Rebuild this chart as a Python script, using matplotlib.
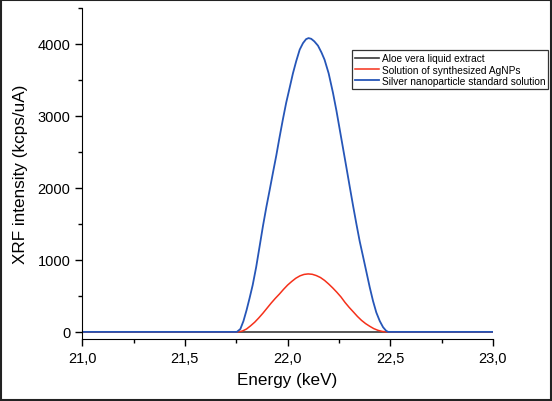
import matplotlib.pyplot as plt
from matplotlib.patches import Rectangle
from matplotlib.ticker import MultipleLocator, FuncFormatter

plt.rcParams["font.family"] = ["Liberation Sans", "DejaVu Sans"]

# values (energy in keV, intensity in kcps/uA)
aloe_x = [21.0, 23.0]
aloe_y = [0, 0]

agnp_x = [21.0, 21.760, 21.780, 21.800, 21.820, 21.840, 21.860, 21.880,
          21.900, 21.920, 21.940, 21.960, 21.980, 22.000, 22.020, 22.040,
          22.060, 22.080, 22.100, 22.120, 22.140, 22.160, 22.180, 22.200,
          22.220, 22.240, 22.260, 22.280, 22.300, 22.320, 22.340, 22.360,
          22.380, 22.400, 22.420, 22.440, 22.460, 22.480, 23.0]
agnp_y = [0, 0, 12, 40, 85, 135, 195, 260,
          330, 400, 465, 525, 590, 650, 700, 745,
          778, 798, 805, 800, 782, 755, 715, 665,
          610, 550, 485, 408, 340, 278, 215, 160,
          115, 78, 45, 22, 7, 0, 0]

std_x = [21.0, 21.753, 21.770, 21.785, 21.800, 21.815, 21.830, 21.847,
         21.865, 21.880, 21.897, 21.912, 21.930, 21.945, 21.960, 21.977,
         21.993, 22.010, 22.026, 22.042, 22.059, 22.075, 22.090, 22.102,
         22.115, 22.130, 22.148, 22.165, 22.180, 22.200, 22.221, 22.238,
         22.254, 22.270, 22.286, 22.303, 22.319, 22.335, 22.351, 22.368,
         22.384, 22.400, 22.416, 22.432, 22.449, 22.465, 22.480, 22.490, 23.0]
std_y = [0, 0, 40, 150, 300, 470, 650, 900,
         1210, 1470, 1740, 1960, 2230, 2450, 2690, 2950,
         3180, 3390, 3590, 3760, 3920, 4010, 4065, 4080,
         4070, 4035, 3975, 3880, 3780, 3590, 3320, 3070,
         2810, 2550, 2290, 2010, 1750, 1500, 1260, 1040,
         830, 620, 430, 270, 150, 65, 15, 0, 0]

labels = ["Aloe vera liquid extract",
          "Solution of synthesized AgNPs",
          "Silver nanoparticle standard solution"]

fig = plt.figure(figsize=(5.52, 4.02), dpi=100)
ax = fig.add_axes([0.149, 0.154, 0.744, 0.824])

ax.plot(aloe_x, aloe_y, color="#3a3a3a", lw=1.2, label=labels[0])
ax.plot(agnp_x, agnp_y, color="#f5301a", lw=1.1, label=labels[1])
ax.plot(std_x, std_y, color="#2656b8", lw=1.3, label=labels[2])

ax.set_xlim(21, 23)
ax.set_ylim(-100, 4500)
ax.spines["top"].set_visible(False)
ax.spines["right"].set_visible(False)
ax.xaxis.set_major_locator(MultipleLocator(0.5))
ax.xaxis.set_minor_locator(MultipleLocator(0.25))
ax.yaxis.set_major_locator(MultipleLocator(1000))
ax.yaxis.set_minor_locator(MultipleLocator(500))
ax.xaxis.set_major_formatter(FuncFormatter(lambda v, p: f"{v:.1f}".replace(".", ",")))
ax.tick_params(which="major", direction="out", length=5, width=1, labelsize=10.5)
ax.tick_params(which="minor", direction="out", length=3, width=1)
ax.set_xlabel("Energy (keV)", fontsize=12.3, labelpad=5)
ax.set_ylabel("XRF intensity (kcps/uA)", fontsize=12.3, labelpad=7)

leg = ax.legend(loc="upper left", bbox_to_anchor=(0.638, 0.872),
                bbox_transform=fig.transFigure, fontsize=7.3,
                frameon=True, fancybox=False, borderpad=0.3,
                handlelength=2.3, handletextpad=0.3, labelspacing=0.1,
                borderaxespad=0)
leg.get_frame().set_edgecolor("black")
leg.get_frame().set_linewidth(0.9)

fig.patches.append(Rectangle((0.002, 0.003), 0.996, 0.994, transform=fig.transFigure,
                             fill=False, edgecolor="#222222", linewidth=1.5))

fig.savefig("out.png", dpi=100)
